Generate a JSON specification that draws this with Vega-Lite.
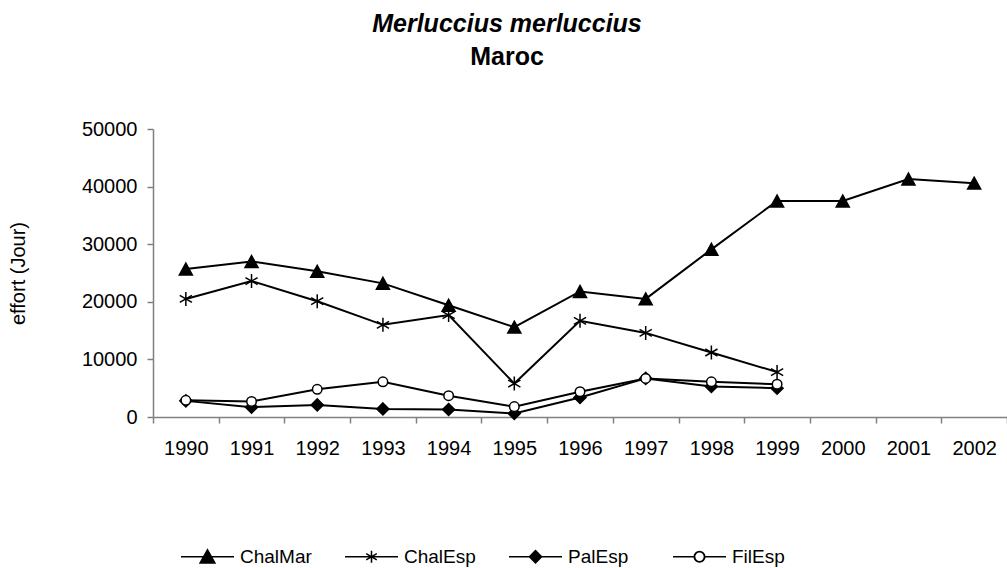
{
  "$schema": "https://vega.github.io/schema/vega-lite/v6.json",
  "autosize": {"type": "none"},
  "width": 854,
  "height": 288,
  "padding": {"left": 153, "top": 129, "right": 0, "bottom": 151},
  "background": "white",
  "title": {
    "text": "Merluccius merluccius",
    "subtitle": "Maroc",
    "anchor": "middle",
    "dx": -73,
    "offset": 49,
    "font": "Liberation Sans",
    "fontSize": 25,
    "fontStyle": "italic",
    "fontWeight": "bold",
    "color": "black",
    "subtitleFont": "Liberation Sans",
    "subtitleFontSize": 25,
    "subtitleFontWeight": "bold",
    "subtitleFontStyle": "normal",
    "subtitleColor": "black",
    "subtitlePadding": 8
  },
  "config": {
    "view": {"stroke": null},
    "axis": {
      "labelFont": "Liberation Sans",
      "labelFontSize": 20,
      "labelColor": "black",
      "titleFont": "Liberation Sans",
      "titleFontSize": 20,
      "titleFontWeight": "normal",
      "titleColor": "black",
      "domainColor": "#808080",
      "domainWidth": 1.5,
      "tickColor": "#808080",
      "tickWidth": 1.5,
      "tickSize": 6,
      "grid": false
    }
  },
  "data": {
    "values": [
      {"year": 1990, "series": "ChalMar", "effort": 25700},
      {"year": 1991, "series": "ChalMar", "effort": 27000},
      {"year": 1992, "series": "ChalMar", "effort": 25300},
      {"year": 1993, "series": "ChalMar", "effort": 23200},
      {"year": 1994, "series": "ChalMar", "effort": 19400},
      {"year": 1995, "series": "ChalMar", "effort": 15600},
      {"year": 1996, "series": "ChalMar", "effort": 21800},
      {"year": 1997, "series": "ChalMar", "effort": 20500},
      {"year": 1998, "series": "ChalMar", "effort": 29100},
      {"year": 1999, "series": "ChalMar", "effort": 37500},
      {"year": 2000, "series": "ChalMar", "effort": 37500},
      {"year": 2001, "series": "ChalMar", "effort": 41300},
      {"year": 2002, "series": "ChalMar", "effort": 40600},
      {"year": 1990, "series": "ChalEsp", "effort": 20500},
      {"year": 1991, "series": "ChalEsp", "effort": 23600},
      {"year": 1992, "series": "ChalEsp", "effort": 20100},
      {"year": 1993, "series": "ChalEsp", "effort": 16000},
      {"year": 1994, "series": "ChalEsp", "effort": 17700},
      {"year": 1995, "series": "ChalEsp", "effort": 5800},
      {"year": 1996, "series": "ChalEsp", "effort": 16700},
      {"year": 1997, "series": "ChalEsp", "effort": 14600},
      {"year": 1998, "series": "ChalEsp", "effort": 11200},
      {"year": 1999, "series": "ChalEsp", "effort": 7800},
      {"year": 1990, "series": "PalEsp", "effort": 2800},
      {"year": 1991, "series": "PalEsp", "effort": 1700},
      {"year": 1992, "series": "PalEsp", "effort": 2100},
      {"year": 1993, "series": "PalEsp", "effort": 1400},
      {"year": 1994, "series": "PalEsp", "effort": 1300},
      {"year": 1995, "series": "PalEsp", "effort": 600},
      {"year": 1996, "series": "PalEsp", "effort": 3400},
      {"year": 1997, "series": "PalEsp", "effort": 6700},
      {"year": 1998, "series": "PalEsp", "effort": 5300},
      {"year": 1999, "series": "PalEsp", "effort": 5000},
      {"year": 1990, "series": "FilEsp", "effort": 2900},
      {"year": 1991, "series": "FilEsp", "effort": 2700},
      {"year": 1992, "series": "FilEsp", "effort": 4800},
      {"year": 1993, "series": "FilEsp", "effort": 6100},
      {"year": 1994, "series": "FilEsp", "effort": 3700},
      {"year": 1995, "series": "FilEsp", "effort": 1800},
      {"year": 1996, "series": "FilEsp", "effort": 4400},
      {"year": 1997, "series": "FilEsp", "effort": 6700},
      {"year": 1998, "series": "FilEsp", "effort": 6100},
      {"year": 1999, "series": "FilEsp", "effort": 5700}
    ]
  },
  "encoding": {
    "x": {
      "field": "year",
      "type": "ordinal",
      "scale": {"type": "band", "paddingInner": 0, "paddingOuter": 0},
      "axis": {"title": null, "labelAngle": 0, "tickBand": "extent", "labelPadding": 15}
    },
    "y": {
      "field": "effort",
      "type": "quantitative",
      "scale": {"domain": [0, 50000], "nice": false, "zero": true},
      "axis": {
        "title": "effort (Jour)",
        "values": [0, 10000, 20000, 30000, 40000, 50000],
        "format": "d",
        "labelPadding": 10,
        "titlePadding": 53
      }
    }
  },
  "resolve": {"scale": {"shape": "independent"}, "legend": {"shape": "independent"}},
  "layer": [
    {
      "mark": {"type": "point", "filled": true, "fill": "black", "stroke": "black", "strokeWidth": 1.8, "opacity": 1, "size": 0},
      "encoding": {
        "shape": {
          "field": "series",
          "type": "nominal",
          "scale": {
            "domain": ["ChalMar", "ChalEsp", "PalEsp", "FilEsp"],
            "range": [
              "M-1,0L1,0M0,-0.26L0.28,0.24L-0.28,0.24Z",
              "M-1,0L1,0M0,-0.23L0,0.23M-0.2,-0.115L0.2,0.115M-0.2,0.115L0.2,-0.115",
              "M-1,0L1,0M0,-0.23L0.23,0L0,0.23L-0.23,0Z",
              "M-1,0L-0.2,0M0.2,0L1,0M0.2,0A0.2,0.2 0 1,1 -0.2,0A0.2,0.2 0 1,1 0.2,0ZM0.185,0A0.185,0.185 0 1,0 -0.185,0A0.185,0.185 0 1,0 0.185,0Z"
            ]
          },
          "legend": {
            "title": null,
            "orient": "none",
            "legendX": 27,
            "legendY": 400,
            "direction": "horizontal",
            "columns": 4,
            "padding": 0,
            "columnPadding": 30,
            "gridAlign": "all",
            "symbolSize": 2809,
            "labelFont": "Liberation Sans",
            "labelFontSize": 19,
            "labelColor": "black",
            "labelOffset": 5,
            "labelLimit": 300
          }
        }
      }
    },
    {
      "mark": {"type": "line", "color": "black", "strokeWidth": 2},
      "encoding": {"detail": {"field": "series"}}
    },
    {
      "mark": {"type": "point", "filled": true, "stroke": "black", "strokeWidth": 1.5, "opacity": 1, "size": 196},
      "encoding": {
        "shape": {
          "field": "series",
          "type": "nominal",
          "scale": {
            "domain": ["ChalMar", "ChalEsp", "PalEsp", "FilEsp"],
            "range": [
              "M0,-0.85L0.93,0.85L-0.93,0.85Z",
              "M0,-1L0,1M-0.87,-0.5L0.87,0.5M-0.87,0.5L0.87,-0.5",
              "M0,-0.86L0.86,0L0,0.86L-0.86,0Z",
              "M0.68,0A0.68,0.68 0 1,1 -0.68,0A0.68,0.68 0 1,1 0.68,0Z"
            ]
          },
          "legend": null
        },
        "fill": {
          "field": "series",
          "type": "nominal",
          "scale": {
            "domain": ["ChalMar", "ChalEsp", "PalEsp", "FilEsp"],
            "range": ["black", "black", "black", "white"]
          },
          "legend": null
        }
      }
    }
  ]
}
